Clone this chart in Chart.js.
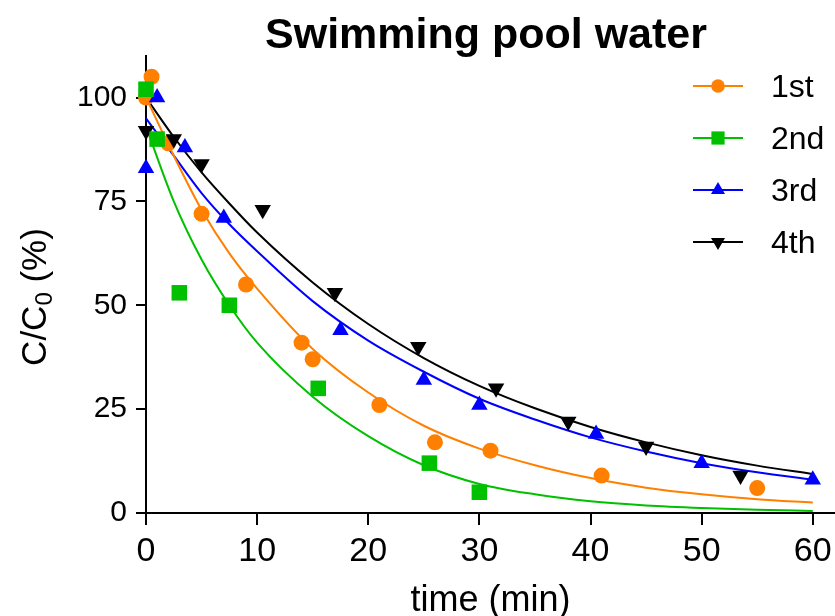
<!DOCTYPE html>
<html>
<head>
<meta charset="utf-8">
<script src="https://cdn.jsdelivr.net/npm/chart.js@4"></script>
<style>
    body { margin: 0; background: #ffffff; }
    #wrap { width: 835px; height: 616px; }
</style>
</head>
<body>
<div id="wrap"><canvas id="pool_chart"></canvas></div>
<script>
// measured points (time in min, C/C0 in %)
const time1 = [0, 0.5, 2, 5, 9, 14, 15, 21, 26, 31, 41, 55];
const run1 = [100, 105, 89, 72, 55, 41, 37, 26, 17, 15, 9, 6];
const time2 = [0, 1, 3, 7.5, 15.5, 25.5, 30];
const run2 = [102, 90, 53, 50, 30, 12, 5];
const time3 = [0, 1, 3.5, 7, 17.5, 25, 30, 40.5, 50, 60];
const run3 = [83, 100, 88, 71, 44, 32, 26, 19, 12, 8];
const time4 = [0, 2.5, 5, 10.5, 17, 24.5, 31.5, 38, 45, 53.5];
const run4 = [92, 90, 84, 73, 53, 40, 30, 22, 16, 9];

// fitted curves
const fitTime = [0, 2.5, 5, 7.5, 10, 15, 20, 25, 30, 35, 40, 45, 50, 55, 60];
const fit1 = [100, 86, 73, 62.5, 54, 39.5, 29, 21, 15.5, 11.5, 8.4, 6.1, 4.5, 3.3, 2.5];
const fit2 = [93, 75, 61, 50, 41, 28, 18.5, 11.5, 7, 4.5, 2.8, 1.8, 1.2, 0.8, 0.5];
const fit3 = [95, 86, 77, 69.5, 63, 51, 41.5, 34, 27.5, 22.5, 18.2, 14.8, 12, 9.8, 8];
const fit4 = [100, 90.5, 82, 74.5, 67.5, 55.5, 45.5, 37.3, 30.6, 25.2, 20.7, 17, 13.9, 11.4, 9.4];

const seriesNames = ["1st", "2nd", "3rd", "4th"];
const xTicks = [0, 10, 20, 30, 40, 50, 60];
const yTicks = [0, 25, 50, 75, 100];

const chartTitle = "Swimming pool water";
const xTitle = "time (min)";

const FONT = "'Liberation Sans', Arial, sans-serif";
Chart.defaults.font.family = FONT;
Chart.defaults.color = "#000";

function toPoints(xs, ys) {
    return xs.map((x, i) => ({ x: x, y: ys[i] }));
}

const markers = [
    { color: "#ff8000", pointStyle: "circle", radius: 8, rotation: 0 },
    { color: "#00c000", pointStyle: "rect", radius: 11, rotation: 0 },
    { color: "#0000ff", pointStyle: "triangle", radius: 9.5, rotation: 0 },
    { color: "#000000", pointStyle: "triangle", radius: 9.5, rotation: 180 }
];

function pointSet(label, xs, ys, m, order) {
    return {
        label: label,
        data: toPoints(xs, ys),
        showLine: false,
        pointStyle: m.pointStyle,
        pointRadius: m.radius,
        pointRotation: m.rotation,
        pointBackgroundColor: m.color,
        pointBorderColor: m.color,
        pointBorderWidth: 0,
        clip: false,
        order: order
    };
}

function fitSet(label, ys, m) {
    return {
        label: label + " fit",
        data: toPoints(fitTime, ys),
        showLine: true,
        borderColor: m.color,
        borderWidth: 2,
        pointRadius: 0,
        cubicInterpolationMode: "monotone",
        order: 10
    };
}

// title, y-axis title and the legend drawn inside the plot
const pageText = {
    id: "pageText",
    afterDraw(chart) {
        const ctx = chart.ctx;
        ctx.save();
        ctx.fillStyle = "#000";
        ctx.textBaseline = "alphabetic";

        ctx.font = "bold 43px " + FONT;
        ctx.textAlign = "center";
        ctx.fillText(chartTitle, 486, 48);

        // C/C0 (%) with a subscript zero
        ctx.save();
        ctx.translate(46, 297);
        ctx.rotate(-Math.PI / 2);
        ctx.textAlign = "left";
        const big = "35px " + FONT;
        const small = "24px " + FONT;
        ctx.font = big;
        const w1 = ctx.measureText("C/C").width;
        const w3 = ctx.measureText(" (%)").width;
        ctx.font = small;
        const w2 = ctx.measureText("0").width;
        let x = -(w1 + w2 + w3) / 2;
        ctx.font = big;
        ctx.fillText("C/C", x, 0);
        x += w1;
        ctx.font = small;
        ctx.fillText("0", x, 6);
        x += w2;
        ctx.font = big;
        ctx.fillText(" (%)", x, 0);
        ctx.restore();

        // legend
        ctx.font = "32px " + FONT;
        ctx.textAlign = "left";
        seriesNames.forEach((name, i) => {
            const m = markers[i];
            const y = 86 + i * 52;
            ctx.strokeStyle = m.color;
            ctx.fillStyle = m.color;
            ctx.lineWidth = 2;
            ctx.beginPath();
            ctx.moveTo(693, y);
            ctx.lineTo(743, y);
            ctx.stroke();
            Chart.helpers.drawPoint(ctx, {
                pointStyle: m.pointStyle,
                radius: m.radius * 0.85,
                rotation: m.rotation,
                borderWidth: 0
            }, 718, y);
            ctx.fillStyle = "#000";
            ctx.fillText(name, 771, y + 11);
        });
        ctx.restore();
    }
};

const chart = new Chart(document.getElementById("pool_chart"), {
    type: "scatter",
    data: {
        datasets: [
            fitSet(seriesNames[0], fit1, markers[0]),
            fitSet(seriesNames[1], fit2, markers[1]),
            fitSet(seriesNames[2], fit3, markers[2]),
            fitSet(seriesNames[3], fit4, markers[3]),
            pointSet(seriesNames[0], time1, run1, markers[0], 4),
            pointSet(seriesNames[1], time2, run2, markers[1], 1),
            pointSet(seriesNames[2], time3, run3, markers[2], 3),
            pointSet(seriesNames[3], time4, run4, markers[3], 2)
        ]
    },
    options: {
        responsive: true,
        maintainAspectRatio: false,
        animation: false,
        layout: { autoPadding: false, padding: { top: 56, left: 0, right: 0, bottom: 0 } },
        plugins: {
            legend: { display: false },
            tooltip: { enabled: false }
        },
        scales: {
            x: {
                type: "linear",
                min: 0,
                max: 62,
                afterBuildTicks: scale => { scale.ticks = xTicks.map(v => ({ value: v })); },
                afterFit: scale => {
                    scale.height = 103;
                    scale.paddingLeft = 0;
                    scale.paddingRight = 0;
                },
                ticks: { font: { size: 34 }, color: "#000", padding: 6, maxRotation: 0 },
                grid: { drawOnChartArea: false, drawTicks: true, tickLength: 12, color: "#000", lineWidth: 2 },
                border: { display: true, color: "#000", width: 2 },
                title: {
                    display: true,
                    text: xTitle,
                    font: { size: 36, lineHeight: 0.85 },
                    color: "#000",
                    padding: { top: 0, bottom: 0 }
                }
            },
            y: {
                type: "linear",
                min: 0,
                max: 110,
                afterBuildTicks: scale => { scale.ticks = yTicks.map(v => ({ value: v })); },
                afterFit: scale => { scale.width = 146; },
                ticks: { font: { size: 30 }, color: "#000", padding: 9 },
                grid: { drawOnChartArea: false, drawTicks: true, tickLength: 10, color: "#000", lineWidth: 2 },
                border: { display: true, color: "#000", width: 2 }
            }
        }
    },
    plugins: [pageText]
});
</script>
</body>
</html>
